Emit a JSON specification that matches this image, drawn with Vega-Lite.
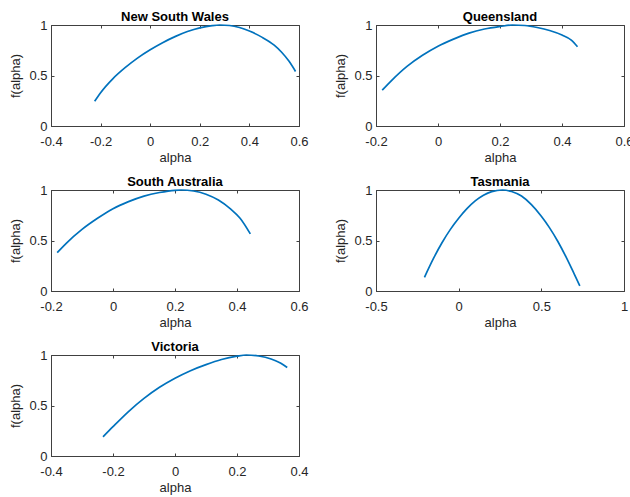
{
  "$schema": "https://vega.github.io/schema/vega-lite/v6.json",
  "padding": {"left": 9, "top": 10, "right": 0, "bottom": 0},
  "background": "white",
  "bounds": "flush",
  "columns": 2,
  "spacing": {"row": 64, "column": 77},
  "datasets": {
    "spec": [
      {"region": "New South Wales", "alpha": -0.224, "f": 0.245},
      {"region": "New South Wales", "alpha": -0.2, "f": 0.33},
      {"region": "New South Wales", "alpha": -0.15, "f": 0.47},
      {"region": "New South Wales", "alpha": -0.1, "f": 0.58},
      {"region": "New South Wales", "alpha": -0.05, "f": 0.675},
      {"region": "New South Wales", "alpha": 0.0, "f": 0.755},
      {"region": "New South Wales", "alpha": 0.05, "f": 0.825},
      {"region": "New South Wales", "alpha": 0.1, "f": 0.885},
      {"region": "New South Wales", "alpha": 0.15, "f": 0.935},
      {"region": "New South Wales", "alpha": 0.2, "f": 0.972},
      {"region": "New South Wales", "alpha": 0.25, "f": 0.994},
      {"region": "New South Wales", "alpha": 0.28, "f": 1.0},
      {"region": "New South Wales", "alpha": 0.32, "f": 0.995},
      {"region": "New South Wales", "alpha": 0.36, "f": 0.975},
      {"region": "New South Wales", "alpha": 0.4, "f": 0.94},
      {"region": "New South Wales", "alpha": 0.45, "f": 0.88},
      {"region": "New South Wales", "alpha": 0.5, "f": 0.8},
      {"region": "New South Wales", "alpha": 0.53, "f": 0.73},
      {"region": "New South Wales", "alpha": 0.56, "f": 0.64},
      {"region": "New South Wales", "alpha": 0.586, "f": 0.54},

      {"region": "Queensland", "alpha": -0.18, "f": 0.355},
      {"region": "Queensland", "alpha": -0.15, "f": 0.45},
      {"region": "Queensland", "alpha": -0.1, "f": 0.59},
      {"region": "Queensland", "alpha": -0.05, "f": 0.7},
      {"region": "Queensland", "alpha": 0.0, "f": 0.79},
      {"region": "Queensland", "alpha": 0.05, "f": 0.86},
      {"region": "Queensland", "alpha": 0.1, "f": 0.92},
      {"region": "Queensland", "alpha": 0.15, "f": 0.96},
      {"region": "Queensland", "alpha": 0.2, "f": 0.985},
      {"region": "Queensland", "alpha": 0.24, "f": 1.0},
      {"region": "Queensland", "alpha": 0.28, "f": 0.995},
      {"region": "Queensland", "alpha": 0.32, "f": 0.975},
      {"region": "Queensland", "alpha": 0.36, "f": 0.945},
      {"region": "Queensland", "alpha": 0.4, "f": 0.9},
      {"region": "Queensland", "alpha": 0.43, "f": 0.85},
      {"region": "Queensland", "alpha": 0.45, "f": 0.785},

      {"region": "South Australia", "alpha": -0.18, "f": 0.38},
      {"region": "South Australia", "alpha": -0.15, "f": 0.475},
      {"region": "South Australia", "alpha": -0.1, "f": 0.61},
      {"region": "South Australia", "alpha": -0.05, "f": 0.72},
      {"region": "South Australia", "alpha": 0.0, "f": 0.815},
      {"region": "South Australia", "alpha": 0.05, "f": 0.885},
      {"region": "South Australia", "alpha": 0.1, "f": 0.94},
      {"region": "South Australia", "alpha": 0.15, "f": 0.975},
      {"region": "South Australia", "alpha": 0.2, "f": 0.997},
      {"region": "South Australia", "alpha": 0.22, "f": 1.0},
      {"region": "South Australia", "alpha": 0.26, "f": 0.99},
      {"region": "South Australia", "alpha": 0.3, "f": 0.958},
      {"region": "South Australia", "alpha": 0.34, "f": 0.9},
      {"region": "South Australia", "alpha": 0.38, "f": 0.81},
      {"region": "South Australia", "alpha": 0.41, "f": 0.72},
      {"region": "South Australia", "alpha": 0.443, "f": 0.565},

      {"region": "Tasmania", "alpha": -0.207, "f": 0.135},
      {"region": "Tasmania", "alpha": -0.15, "f": 0.33},
      {"region": "Tasmania", "alpha": -0.1, "f": 0.48},
      {"region": "Tasmania", "alpha": -0.05, "f": 0.61},
      {"region": "Tasmania", "alpha": 0.0, "f": 0.72},
      {"region": "Tasmania", "alpha": 0.05, "f": 0.815},
      {"region": "Tasmania", "alpha": 0.1, "f": 0.892},
      {"region": "Tasmania", "alpha": 0.15, "f": 0.948},
      {"region": "Tasmania", "alpha": 0.2, "f": 0.984},
      {"region": "Tasmania", "alpha": 0.265, "f": 1.0},
      {"region": "Tasmania", "alpha": 0.32, "f": 0.985},
      {"region": "Tasmania", "alpha": 0.38, "f": 0.94},
      {"region": "Tasmania", "alpha": 0.44, "f": 0.855},
      {"region": "Tasmania", "alpha": 0.5, "f": 0.74},
      {"region": "Tasmania", "alpha": 0.55, "f": 0.625},
      {"region": "Tasmania", "alpha": 0.6, "f": 0.49},
      {"region": "Tasmania", "alpha": 0.65, "f": 0.335},
      {"region": "Tasmania", "alpha": 0.7, "f": 0.165},
      {"region": "Tasmania", "alpha": 0.733, "f": 0.05},

      {"region": "Victoria", "alpha": -0.232, "f": 0.19},
      {"region": "Victoria", "alpha": -0.2, "f": 0.29},
      {"region": "Victoria", "alpha": -0.15, "f": 0.44},
      {"region": "Victoria", "alpha": -0.1, "f": 0.57},
      {"region": "Victoria", "alpha": -0.05, "f": 0.68},
      {"region": "Victoria", "alpha": 0.0, "f": 0.77},
      {"region": "Victoria", "alpha": 0.05, "f": 0.845},
      {"region": "Victoria", "alpha": 0.1, "f": 0.905},
      {"region": "Victoria", "alpha": 0.15, "f": 0.955},
      {"region": "Victoria", "alpha": 0.2, "f": 0.988},
      {"region": "Victoria", "alpha": 0.23, "f": 1.0},
      {"region": "Victoria", "alpha": 0.27, "f": 0.99},
      {"region": "Victoria", "alpha": 0.31, "f": 0.96},
      {"region": "Victoria", "alpha": 0.34, "f": 0.92},
      {"region": "Victoria", "alpha": 0.362, "f": 0.876}
    ]
  },
  "data": {"name": "spec"},
  "concat": [
    {
      "width": 248, "height": 101,
      "title": "New South Wales",
      "transform": [{"filter": "datum.region === 'New South Wales'"}],
      "layer": [
        {"mark": {"type": "line", "color": "#0072BD", "strokeWidth": 1.7, "interpolate": "monotone"},
         "encoding": {
           "x": {"field": "alpha", "type": "quantitative", "scale": {"domain": [-0.4, 0.6], "nice": false, "zero": false}, "axis": {"values": [-0.4, -0.2, 0, 0.2, 0.4, 0.6], "title": "alpha"}},
           "y": {"field": "f", "type": "quantitative", "scale": {"domain": [0, 1], "nice": false}, "axis": {"values": [0, 0.5, 1], "title": "f(alpha)"}}
         }},
        {"mark": {"type": "line", "opacity": 0},
         "encoding": {
           "x": {"field": "alpha", "type": "quantitative", "axis": {"orient": "top", "values": [-0.4, -0.2, 0, 0.2, 0.4, 0.6], "labels": false, "domain": false, "title": null}},
           "y": {"field": "f", "type": "quantitative", "axis": {"orient": "right", "values": [0, 0.5, 1], "labels": false, "domain": false, "title": null}}
         }}
      ],
      "resolve": {"axis": {"x": "independent", "y": "independent"}}
    },
    {
      "width": 248, "height": 101,
      "title": "Queensland",
      "transform": [{"filter": "datum.region === 'Queensland'"}],
      "layer": [
        {"mark": {"type": "line", "color": "#0072BD", "strokeWidth": 1.7, "interpolate": "monotone"},
         "encoding": {
           "x": {"field": "alpha", "type": "quantitative", "scale": {"domain": [-0.2, 0.6], "nice": false, "zero": false}, "axis": {"values": [-0.2, 0, 0.2, 0.4, 0.6], "title": "alpha"}},
           "y": {"field": "f", "type": "quantitative", "scale": {"domain": [0, 1], "nice": false}, "axis": {"values": [0, 0.5, 1], "title": "f(alpha)"}}
         }},
        {"mark": {"type": "line", "opacity": 0},
         "encoding": {
           "x": {"field": "alpha", "type": "quantitative", "axis": {"orient": "top", "values": [-0.2, 0, 0.2, 0.4, 0.6], "labels": false, "domain": false, "title": null}},
           "y": {"field": "f", "type": "quantitative", "axis": {"orient": "right", "values": [0, 0.5, 1], "labels": false, "domain": false, "title": null}}
         }}
      ],
      "resolve": {"axis": {"x": "independent", "y": "independent"}}
    },
    {
      "width": 248, "height": 101,
      "title": "South Australia",
      "transform": [{"filter": "datum.region === 'South Australia'"}],
      "layer": [
        {"mark": {"type": "line", "color": "#0072BD", "strokeWidth": 1.7, "interpolate": "monotone"},
         "encoding": {
           "x": {"field": "alpha", "type": "quantitative", "scale": {"domain": [-0.2, 0.6], "nice": false, "zero": false}, "axis": {"values": [-0.2, 0, 0.2, 0.4, 0.6], "title": "alpha"}},
           "y": {"field": "f", "type": "quantitative", "scale": {"domain": [0, 1], "nice": false}, "axis": {"values": [0, 0.5, 1], "title": "f(alpha)"}}
         }},
        {"mark": {"type": "line", "opacity": 0},
         "encoding": {
           "x": {"field": "alpha", "type": "quantitative", "axis": {"orient": "top", "values": [-0.2, 0, 0.2, 0.4, 0.6], "labels": false, "domain": false, "title": null}},
           "y": {"field": "f", "type": "quantitative", "axis": {"orient": "right", "values": [0, 0.5, 1], "labels": false, "domain": false, "title": null}}
         }}
      ],
      "resolve": {"axis": {"x": "independent", "y": "independent"}}
    },
    {
      "width": 248, "height": 101,
      "title": "Tasmania",
      "transform": [{"filter": "datum.region === 'Tasmania'"}],
      "layer": [
        {"mark": {"type": "line", "color": "#0072BD", "strokeWidth": 1.7, "interpolate": "monotone"},
         "encoding": {
           "x": {"field": "alpha", "type": "quantitative", "scale": {"domain": [-0.5, 1], "nice": false, "zero": false}, "axis": {"values": [-0.5, 0, 0.5, 1], "title": "alpha"}},
           "y": {"field": "f", "type": "quantitative", "scale": {"domain": [0, 1], "nice": false}, "axis": {"values": [0, 0.5, 1], "title": "f(alpha)"}}
         }},
        {"mark": {"type": "line", "opacity": 0},
         "encoding": {
           "x": {"field": "alpha", "type": "quantitative", "axis": {"orient": "top", "values": [-0.5, 0, 0.5, 1], "labels": false, "domain": false, "title": null}},
           "y": {"field": "f", "type": "quantitative", "axis": {"orient": "right", "values": [0, 0.5, 1], "labels": false, "domain": false, "title": null}}
         }}
      ],
      "resolve": {"axis": {"x": "independent", "y": "independent"}}
    },
    {
      "width": 248, "height": 101,
      "title": "Victoria",
      "transform": [{"filter": "datum.region === 'Victoria'"}],
      "layer": [
        {"mark": {"type": "line", "color": "#0072BD", "strokeWidth": 1.7, "interpolate": "monotone"},
         "encoding": {
           "x": {"field": "alpha", "type": "quantitative", "scale": {"domain": [-0.4, 0.4], "nice": false, "zero": false}, "axis": {"values": [-0.4, -0.2, 0, 0.2, 0.4], "title": "alpha"}},
           "y": {"field": "f", "type": "quantitative", "scale": {"domain": [0, 1], "nice": false}, "axis": {"values": [0, 0.5, 1], "title": "f(alpha)"}}
         }},
        {"mark": {"type": "line", "opacity": 0},
         "encoding": {
           "x": {"field": "alpha", "type": "quantitative", "axis": {"orient": "top", "values": [-0.4, -0.2, 0, 0.2, 0.4], "labels": false, "domain": false, "title": null}},
           "y": {"field": "f", "type": "quantitative", "axis": {"orient": "right", "values": [0, 0.5, 1], "labels": false, "domain": false, "title": null}}
         }}
      ],
      "resolve": {"axis": {"x": "independent", "y": "independent"}}
    }
  ],
  "config": {
    "font": "Liberation Sans",
    "view": {"stroke": "#404040", "strokeWidth": 1},
    "axis": {
      "grid": false,
      "labelFont": "Liberation Sans",
      "labelFontSize": 13,
      "labelColor": "#262626",
      "titleFont": "Liberation Sans",
      "titleFontSize": 13,
      "titleFontWeight": "normal",
      "titleColor": "#262626",
      "domainColor": "#404040",
      "tickColor": "#404040",
      "tickSize": -3,
      "labelExpr": "'' + datum.value",
      "labelOverlap": false,
      "labelFlush": false
    },
    "axisX": {"titlePadding": 3, "labelPadding": 12},
    "axisY": {"titlePadding": 6, "labelPadding": 7},
    "title": {"fontSize": 13, "fontWeight": "bold", "color": "#000000", "font": "Liberation Sans", "offset": -5}
  }
}
